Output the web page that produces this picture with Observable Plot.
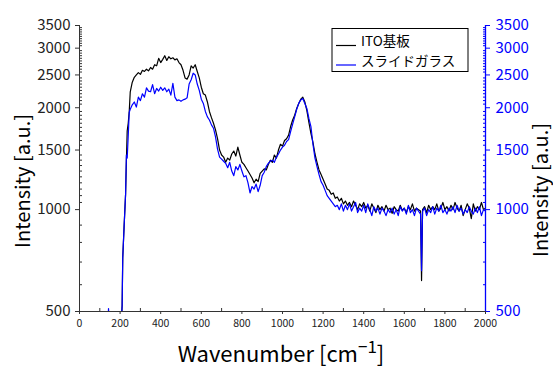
<!DOCTYPE html>
<html>
<head>
<meta charset="utf-8">
<script src="https://cdn.jsdelivr.net/npm/d3@7"></script>
<script src="https://cdn.jsdelivr.net/npm/@observablehq/plot@0.6"></script>
<style>
  body { margin: 0; background: #fff; }
  #chart { width: 553px; height: 369px; }
</style>
</head>
<body>
<div id="chart"></div>
<script>
// ---- data ----
const wavenumber = [
  140,143,146,200,205,210,213,220,227,231,235,240,245,250,
  260,270,280,290,300,
  310,320,330,340,350,360,370,380,390,400,
  410,420,430,440,450,460,470,480,490,500,
  510,520,530,540,550,560,570,580,590,600,
  610,620,630,640,650,660,670,680,690,700,
  710,720,730,740,750,760,770,780,790,800,
  810,820,830,840,850,860,870,880,890,900,
  910,920,930,940,950,960,970,980,990,1000,
  1010,1020,1030,1040,1050,1060,1070,1080,1090,1100,
  1110,1120,1130,1140,1150,1160,1170,1180,1190,1200,
  1210,1220,1230,1240,1250,1260,1270,1280,1290,1300,
  1310,1320,1330,1340,1350,1360,1370,1380,1390,1400,
  1410,1420,1430,1440,1450,1460,1470,1480,1490,1500,
  1510,1520,1530,1540,1550,1560,1570,1580,1590,1600,
  1610,1620,1630,1640,1650,1660,1670,1680,1685,1690,1700,
  1710,1720,1730,1740,1750,1760,1770,1780,1790,1800,
  1810,1820,1830,1840,1850,1860,1870,1880,1890,1900,
  1910,1920,1930,1940,1950,1960,1970,1980,1990,2000
];
const itoIntensity = [
  300,300,300,420,450,520,720,900,1110,1400,1710,1800,1950,2230,
  2380,2460,2500,2540,2510,
  2580,2560,2600,2570,2630,2600,2680,2660,2800,2720,
  2780,2850,2760,2830,2790,2810,2770,2790,2720,2680,
  2580,2450,2430,2500,2660,2620,2680,2560,2450,2300,
  2200,2180,2080,1950,1870,1800,1720,1620,1500,1450,
  1430,1380,1420,1400,1460,1490,1440,1530,1450,1380,
  1360,1330,1300,1270,1240,1200,1230,1210,1280,1300,
  1320,1310,1360,1400,1380,1450,1420,1500,1560,1540,
  1600,1620,1660,1760,1840,1900,1990,2060,2120,2150,
  2080,1960,1810,1680,1580,1460,1380,1310,1270,1230,
  1190,1150,1140,1110,1120,1080,1090,1060,1080,1040,
  1060,1030,1050,1020,1060,1030,1000,1040,1020,1050,
  1010,1030,990,1040,1010,980,1030,1000,1020,990,
  1030,1000,1010,975,1020,1000,990,1030,995,1010,
  980,1020,1000,1040,990,1010,1000,990,617,1000,1020,
  980,1030,1000,1020,1000,1040,990,1010,1050,1000,
  1020,990,1030,1000,1050,1010,990,1030,960,1000,
  1040,1010,940,1040,990,1020,1000,1050,1000,1010
];
const glassIntensity = [
  470,510,470,430,460,520,720,900,1110,1450,1420,1650,1940,1980,
  2040,2080,2010,2150,2100,
  2200,2150,2290,2240,2230,2340,2200,2280,2240,2300,
  2250,2290,2230,2270,2180,2360,2150,2100,2110,2090,
  2110,2120,2140,2350,2420,2530,2500,2350,2250,2120,
  2060,1950,1880,1840,1780,1740,1640,1510,1430,1410,
  1390,1370,1330,1380,1300,1260,1340,1310,1360,1300,
  1250,1260,1200,1120,1170,1150,1190,1130,1180,1260,
  1290,1340,1370,1390,1400,1380,1430,1460,1500,1530,
  1550,1590,1610,1700,1790,1880,1980,2060,2110,2130,
  2060,1990,1860,1760,1560,1420,1340,1270,1210,1180,
  1140,1100,1080,1060,1040,1020,1030,1000,1040,990,
  1030,1000,1040,990,1020,1050,980,1010,990,1030,
  980,1040,1000,960,1020,990,1010,970,1010,990,
  960,1000,980,1010,970,1000,960,1020,990,1010,
  970,1030,980,1000,960,1010,990,970,660,990,1010,
  960,1000,980,1020,970,1010,990,1030,980,1000,
  970,1010,990,1020,980,1030,990,1010,970,1000,
  980,1020,990,970,1010,980,1020,960,1000,990
];
const seriesNames = ["ITO基板", "スライドガラス"];
const seriesColors = ["#000000", "#0000ff"];
const yTicks = [500, 1000, 1500, 2000, 2500, 3000, 3500];
const xTicks = [0, 200, 400, 600, 800, 1000, 1200, 1400, 1600, 1800, 2000];
const xMinorTicks = [100, 300, 500, 700, 900, 1100, 1300, 1500, 1700, 1900];
const yMinorTicks = [600, 700, 800, 900].concat(d3.range(1050, 3500, 50).filter(v => v % 500 !== 0));
const xTitle = "Wavenumber [cm";
const xTitleSup = "−1";
const xTitleEnd = "]";
const yTitle = "Intensity [a.u.]";

if (itoIntensity.length !== wavenumber.length || glassIntensity.length !== wavenumber.length) {
  throw new Error("length mismatch " + wavenumber.length + " " + itoIntensity.length + " " + glassIntensity.length);
}

const ito = wavenumber.map((w, i) => ({w, v: itoIntensity[i]}));
const glass = wavenumber.map((w, i) => ({w, v: glassIntensity[i]}));

const FONT = "'Noto Sans CJK JP', 'Noto Sans', sans-serif";
const axisGray = "#333";

const plot = Plot.plot({
  width: 553,
  height: 369,
  marginLeft: 79,
  marginRight: 68,
  marginTop: 25,
  marginBottom: 58,
  style: {fontFamily: FONT, background: "#fff", color: "#000"},
  x: {domain: [0, 2000]},
  y: {type: "log", domain: [500, 3500]},
  marks: [
    Plot.line(ito, {x: "w", y: "v", stroke: seriesColors[0], strokeWidth: 1.2, clip: true}),
    Plot.line(glass, {x: "w", y: "v", stroke: seriesColors[1], strokeWidth: 1.2, clip: true}),
    Plot.axisX({ticks: xTicks, tickSize: 3, tickPadding: 5, fontSize: 10.5, tickFormat: d => String(d), label: null, stroke: axisGray, fill: "#222"}),
    Plot.axisX({ticks: xMinorTicks, tickSize: -3, text: null, label: null, stroke: axisGray}),
    Plot.axisY({anchor: "left", ticks: yTicks, tickSize: 4, tickPadding: 5, fontSize: 15, tickFormat: d => String(d), label: null, stroke: axisGray, fill: "#222"}),
    Plot.axisY({anchor: "left", ticks: yMinorTicks, tickSize: -3, text: null, label: null, stroke: axisGray}),
    Plot.axisY({anchor: "right", ticks: yTicks, tickSize: 4, tickPadding: 6, fontSize: 15, tickFormat: d => String(d), label: null, stroke: "#0000ff", fill: "#0000ff"}),
    Plot.axisY({anchor: "right", ticks: yMinorTicks, tickSize: -3, text: null, label: null, stroke: "#0000ff"}),
    Plot.ruleX([0], {stroke: axisGray}),
    Plot.ruleX([2000], {stroke: "#0000ff", strokeWidth: 1.3}),
    Plot.ruleY([500], {stroke: axisGray})
  ]
});

document.getElementById("chart").appendChild(plot);

const svg = d3.select(plot);
const t = svg.append("g").attr("font-family", FONT).attr("fill", "#000");

// axis titles
t.append("text")
  .attr("transform", "translate(21,181) rotate(-90)")
  .attr("text-anchor", "middle").attr("dominant-baseline", "central")
  .attr("font-size", 20).text(yTitle);
t.append("text")
  .attr("transform", "translate(539,190) rotate(-90)")
  .attr("text-anchor", "middle").attr("dominant-baseline", "central")
  .attr("font-size", 20).text(yTitle);
const xt = t.append("text")
  .attr("x", 281).attr("y", 362)
  .attr("text-anchor", "middle")
  .attr("font-size", 22);
xt.append("tspan").text(xTitle);
xt.append("tspan").attr("font-size", 17).attr("dy", -9).text(xTitleSup);
xt.append("tspan").attr("dy", 9).text(xTitleEnd);

// legend
const lg = svg.append("g").attr("font-family", FONT);
lg.append("rect").attr("x", 332).attr("y", 28.5).attr("width", 136).attr("height", 43)
  .attr("fill", "#fff").attr("stroke", "#000").attr("stroke-width", 1);
seriesNames.forEach((name, i) => {
  const ly = [45.5, 65][i];
  const ty = [39.5, 59.5][i];
  lg.append("line").attr("x1", 336).attr("x2", 356).attr("y1", ly).attr("y2", ly)
    .attr("stroke", seriesColors[i]).attr("stroke-width", 1.2);
  lg.append("text").attr("x", 361).attr("y", ty)
    .attr("text-anchor", "start").attr("dominant-baseline", "central")
    .attr("font-size", 13.5).attr("fill", "#000").text(name);
});
</script>
</body>
</html>
